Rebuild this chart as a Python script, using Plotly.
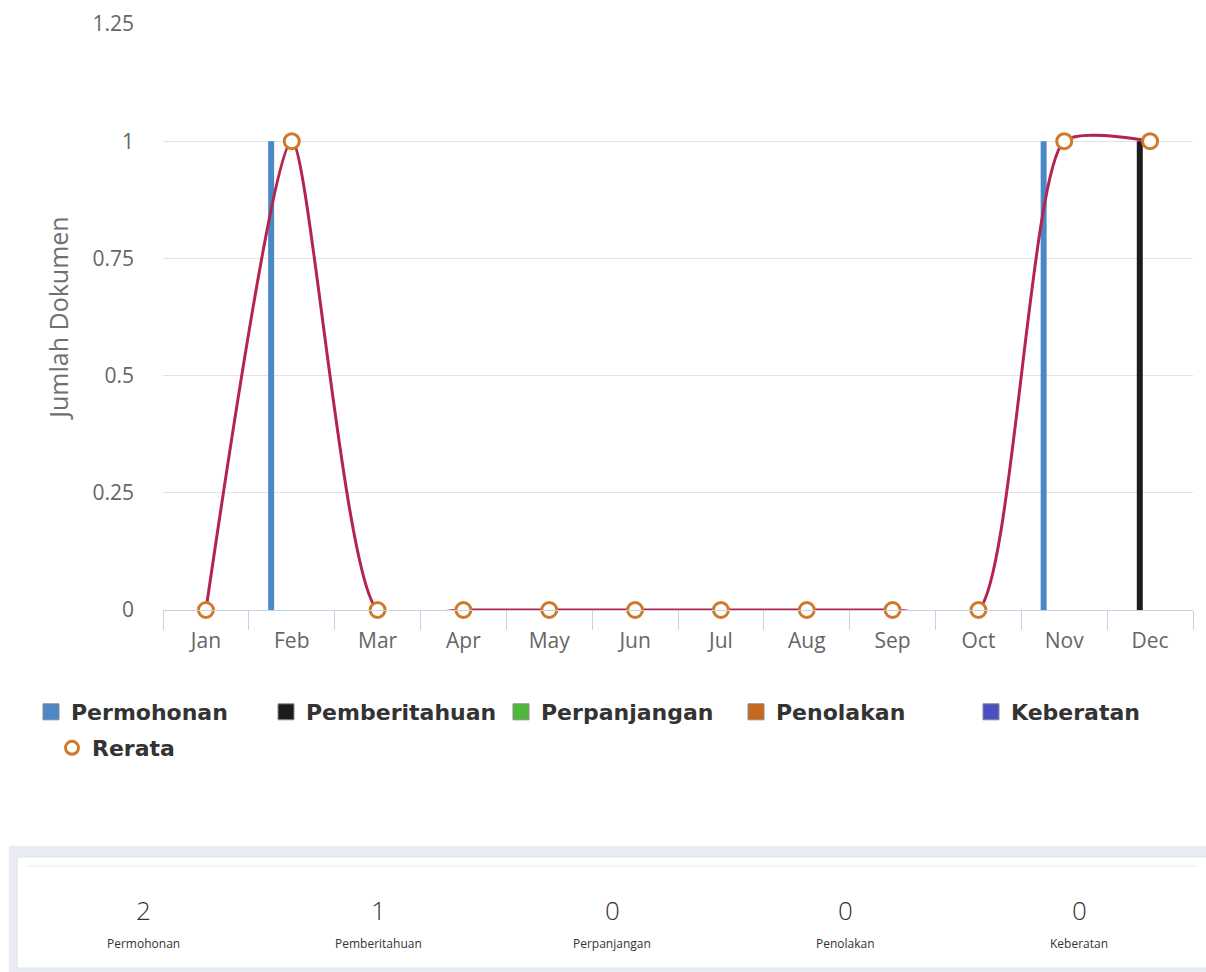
import plotly.graph_objects as go

# ---- data ----
months = ["Jan", "Feb", "Mar", "Apr", "May", "Jun", "Jul", "Aug", "Sep", "Oct", "Nov", "Dec"]
permohonan    = [0, 1, 0, 0, 0, 0, 0, 0, 0, 0, 1, 0]
pemberitahuan = [0, 0, 0, 0, 0, 0, 0, 0, 0, 0, 0, 1]
perpanjangan  = [0, 0, 0, 0, 0, 0, 0, 0, 0, 0, 0, 0]
penolakan     = [0, 0, 0, 0, 0, 0, 0, 0, 0, 0, 0, 0]
keberatan     = [0, 0, 0, 0, 0, 0, 0, 0, 0, 0, 0, 0]
rerata        = [0, 1, 0, 0, 0, 0, 0, 0, 0, 0, 1, 1]

series_names = ["Permohonan", "Pemberitahuan", "Perpanjangan", "Penolakan", "Keberatan"]
series_vals = [permohonan, pemberitahuan, perpanjangan, penolakan, keberatan]
series_colors = ["#4a88c6", "#1c1c1c", "#4fb83a", "#c8681e", "#4a4fc2"]

W, H = 1206, 972
def px(x): return x / W
def py(y): return 1 - y / H

fig = go.Figure()

for i, (name, vals, col) in enumerate(zip(series_names, series_vals, series_colors)):
    fig.add_trace(go.Bar(
        x=months, y=vals, name=name, marker=dict(color=col, line=dict(width=0)),
        legendgroup=name, showlegend=False,
    ))
    # legend proxy with a larger square symbol
    fig.add_trace(go.Scatter(
        x=[None], y=[None], mode="markers", name=name, legendgroup=name,
        marker=dict(symbol="square", size=16, color=col, line=dict(width=1, color="#8a8a8a")),
        legendrank=i + 1, showlegend=True, legend="legend",
    ))

fig.add_trace(go.Scatter(
    x=months, y=rerata, name="Rerata", mode="lines+markers",
    line=dict(color="#b5234f", width=3, shape="spline", smoothing=0.6),
    marker=dict(symbol="circle", size=15, color="white", line=dict(color="#cf7a2a", width=3)),
    cliponaxis=False, legendgroup="Rerata", showlegend=False,
))
fig.add_trace(go.Scatter(
    x=[None], y=[None], mode="markers", name="Rerata", legendgroup="Rerata",
    marker=dict(symbol="circle", size=13, color="white", line=dict(color="#cf7a2a", width=3)),
    showlegend=True, legend="legend2",
))

legend_font = dict(family="DejaVu Sans", size=22, color="#333333", weight="bold")

fig.update_layout(
    width=W, height=H,
    margin=dict(l=0, r=0, t=0, b=0),
    paper_bgcolor="white", plot_bgcolor="white",
    font=dict(family="Open Sans", color="#666666"),
    barmode="group", bargap=0.4, bargroupgap=0.42,
    showlegend=True,
    legend=dict(
        orientation="h", x=px(52), xanchor="left", y=py(691), yanchor="top",
        font=legend_font, itemsizing="trace", traceorder="normal",
        entrywidth=190, entrywidthmode="pixels",
    ),
    legend2=dict(
        orientation="h", x=px(52), xanchor="left", y=py(727), yanchor="top",
        font=legend_font, itemsizing="trace",
    ),
    xaxis=dict(
        type="category", domain=[px(163), px(1193)], range=[-0.5, 11.5],
        showgrid=False, zeroline=False,
        showline=True, linecolor="#c5d2e2", linewidth=1,
        ticks="outside", tickson="boundaries", ticklen=19, tickcolor="#c5d2e2", tickwidth=1,
        ticklabelstandoff=12,
        tickfont=dict(family="Open Sans", size=21, color="#666666"),
        automargin=False, fixedrange=True,
    ),
    yaxis=dict(
        domain=[py(610), py(24)], range=[0, 1.25], tick0=0, dtick=0.25,
        showgrid=True, gridcolor="#e2e2e2", gridwidth=1, zeroline=False, showline=False,
        ticks="", ticklabelstandoff=28,
        tickfont=dict(family="Open Sans", size=21, color="#666666"),
        title=dict(text="Jumlah Dokumen", font=dict(family="Open Sans", size=25, color="#707070"), standoff=16),
        automargin=False, fixedrange=True,
    ),
)

# ---- summary card below the chart ----
fig.add_shape(type="rect", xref="paper", yref="paper",
              x0=px(9), x1=px(1206), y0=py(972), y1=py(846),
              fillcolor="#e9ecf0", line=dict(width=0), layer="below")
fig.add_shape(type="rect", xref="paper", yref="paper",
              x0=px(17), x1=px(1210), y0=py(968), y1=py(857),
              fillcolor="white", line=dict(width=1, color="#dfe3e8"), layer="below")
fig.add_shape(type="line", xref="paper", yref="paper",
              x0=px(27), x1=px(1198), y0=py(866), y1=py(866),
              line=dict(width=1.5, color="#f1f2f4"))

col_centers = [143, 378, 612, 845, 1079]
for cx, name, vals in zip(col_centers, series_names, series_vals):
    fig.add_annotation(x=px(cx), y=py(910), xref="paper", yref="paper",
                       xanchor="center", yanchor="middle",
                       text=str(sum(vals)), showarrow=False,
                       font=dict(family="Open Sans", size=26, color="#333333", weight=300))
    fig.add_annotation(x=px(cx), y=py(943), xref="paper", yref="paper",
                       xanchor="center", yanchor="middle",
                       text=name, showarrow=False,
                       font=dict(family="Open Sans", size=12, color="#333333"))

fig.write_html("out.html", config={"displayModeBar": False},
               post_script="document.body.style.margin='0';document.body.style.overflow='hidden';")
